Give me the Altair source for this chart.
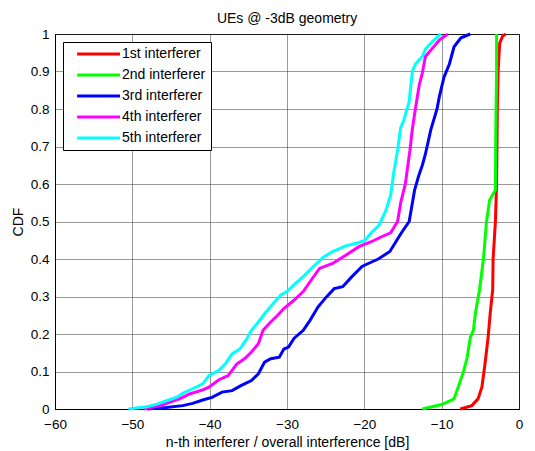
import altair as alt
import pandas as pd

series_names = ["1st interferer", "2nd interferer", "3rd interferer", "4th interferer", "5th interferer"]
series_colors = ["#ff0000", "#00ff00", "#0000ff", "#ff00ff", "#00ffff"]

x1 = [-7.6, -6.1, -5.3, -4.8, -4.4, -4.0, -3.7, -3.4, -3.35, -3.05, -2.9, -2.8, -2.7, -2.5, -2.1, -1.7]
y1 = [0.0, 0.009, 0.027, 0.058, 0.12, 0.19, 0.26, 0.318, 0.4, 0.5, 0.6, 0.8, 0.9, 0.975, 0.995, 1.0]

x2 = [-12.5, -10.0, -8.4, -7.8, -7.2, -6.7, -6.3, -5.9, -5.6, -5.1, -4.6, -4.2, -3.8, -3.05, -3.0, -2.9, -2.9]
y2 = [0.0, 0.012, 0.027, 0.062, 0.098, 0.138, 0.19, 0.21, 0.26, 0.318, 0.4, 0.5, 0.557, 0.584, 0.74, 0.9, 1.0]

x3 = [-48.1, -45.6, -43.5, -42.2, -40.9, -39.7, -38.4, -37.1, -35.9, -34.6, -33.7, -32.9, -32.1, -31.0,
      -30.4, -29.8, -29.1, -27.9, -27.0, -26.0, -24.9, -23.9, -22.8, -21.6, -20.3, -19.7, -18.2, -16.7,
      -15.2, -14.2, -13.5, -13.0, -12.5, -12.1, -11.4, -10.6, -10.3, -9.7, -9.0, -8.4, -7.5, -6.3]
y3 = [0.0, 0.004, 0.009, 0.015, 0.024, 0.031, 0.045, 0.049, 0.063, 0.076, 0.094, 0.125, 0.134, 0.138,
      0.16, 0.165, 0.188, 0.21, 0.237, 0.272, 0.299, 0.321, 0.326, 0.353, 0.38, 0.386, 0.40, 0.42,
      0.47, 0.50, 0.584, 0.62, 0.65, 0.68, 0.745, 0.80, 0.833, 0.885, 0.92, 0.966, 0.99, 1.0]

x4 = [-48.5, -47.7, -46.4, -45.2, -43.9, -42.6, -40.9, -40.1, -38.8, -37.6, -36.5, -35.5, -34.6, -33.7,
      -33.1, -32.1, -31.2, -30.4, -29.1, -27.9, -27.0, -25.8, -24.1, -22.4, -20.7, -19.1, -17.7, -16.6,
      -16.0, -15.7, -15.3, -14.7, -14.1, -13.8, -13.4, -12.9, -12.5, -12.1, -11.4, -10.3, -9.2]
y4 = [0.0, 0.003, 0.009, 0.018, 0.027, 0.04, 0.051, 0.058, 0.078, 0.089, 0.12, 0.134, 0.152, 0.174,
      0.21, 0.232, 0.25, 0.268, 0.29, 0.313, 0.34, 0.375, 0.388, 0.41, 0.433, 0.446, 0.46, 0.47,
      0.49, 0.50, 0.55, 0.60, 0.69, 0.745, 0.80, 0.864, 0.896, 0.94, 0.957, 0.984, 1.0]

x5 = [-50.5, -48.1, -46.8, -45.6, -44.3, -43.5, -42.2, -40.9, -40.1, -38.8, -38.0, -37.1, -36.1, -35.2,
      -34.6, -33.7, -32.9, -31.8, -30.8, -30.0, -28.9, -27.9, -26.6, -25.3, -24.1, -22.4, -20.7, -19.9,
      -19.1, -18.1, -17.2, -16.6, -16.2, -15.7, -15.3, -14.9, -14.2, -13.8, -13.4, -12.5, -12.1, -11.2, -10.1]
y5 = [0.0, 0.006, 0.013, 0.022, 0.031, 0.042, 0.054, 0.067, 0.089, 0.103, 0.12, 0.147, 0.16, 0.187,
      0.21, 0.232, 0.254, 0.281, 0.304, 0.313, 0.335, 0.353, 0.38, 0.405, 0.42, 0.435, 0.444, 0.45,
      0.47, 0.49, 0.53, 0.57, 0.63, 0.69, 0.75, 0.77, 0.82, 0.90, 0.92, 0.94, 0.96, 0.98, 1.0]

x_ticks = [-60, -50, -40, -30, -20, -10, 0]
y_ticks = [0, 0.1, 0.2, 0.3, 0.4, 0.5, 0.6, 0.7, 0.8, 0.9, 1]

rows = []
for name, xs, ys in zip(series_names, [x1, x2, x3, x4, x5], [y1, y2, y3, y4, y5]):
    for i, (xv, yv) in enumerate(zip(xs, ys)):
        rows.append({"series": name, "x": xv, "y": yv, "idx": i})
df = pd.DataFrame(rows)

FONT = "Liberation Sans"
FS = 14
TFS = 13.5

chart = alt.Chart(df).mark_line(strokeWidth=3).encode(
    x=alt.X("x:Q", scale=alt.Scale(domain=[-60, 0], nice=False),
            axis=alt.Axis(values=x_ticks, title="n-th interferer / overall interference [dB]",
                          titleFontWeight="normal",
                          labelFlush=False, tickSize=0, labelPadding=8, titlePadding=5)),
    y=alt.Y("y:Q", scale=alt.Scale(domain=[0, 1], nice=False),
            axis=alt.Axis(values=y_ticks, format="~g", title="CDF", titleFontWeight="normal",
                          labelFlush=False, tickSize=0, labelPadding=6, titlePadding=5)),
    color=alt.Color("series:N",
                    scale=alt.Scale(domain=series_names, range=series_colors),
                    legend=alt.Legend(title=None, orient="none", legendX=8, legendY=8,
                                      direction="vertical",
                                      symbolType="M0.7,0H15", symbolSize=36, symbolStrokeWidth=3,
                                      labelFont=FONT, labelFontSize=FS, labelColor="black",
                                      labelOffset=40, padding=5, rowPadding=7,
                                      strokeColor="black", fillColor="white")),
    order=alt.Order("idx:Q"),
).properties(
    width=464, height=375,
    background="white",
    title=alt.TitleParams("UEs @ -3dB geometry", font=FONT, fontSize=FS, fontWeight="normal",
                          color="black", anchor="middle", offset=1),
    autosize=alt.AutoSizeParams(type="none"),
    padding={"left": 55, "top": 34, "right": 16, "bottom": 42},
).configure_view(
    stroke="black", strokeWidth=1
).configure_axis(
    labelFont=FONT, labelFontSize=TFS, labelColor="black",
    titleFont=FONT, titleFontSize=FS, titleFontWeight="normal", titleColor="black",
    domainColor="black", gridColor="#333333", gridDash=[1, 1], gridOpacity=1,
)

chart.save("out.html", embed_options={"renderer": "svg", "actions": False})
